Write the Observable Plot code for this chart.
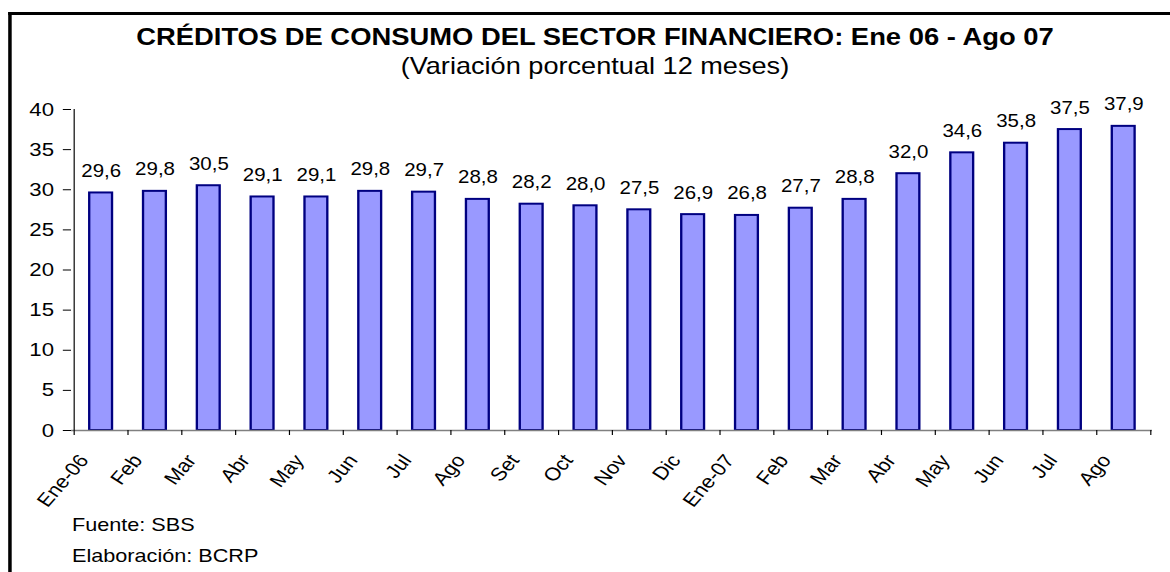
<!DOCTYPE html>
<html>
<head>
<meta charset="utf-8">
<script src="https://cdn.jsdelivr.net/npm/d3@7"></script>
<script src="https://cdn.jsdelivr.net/npm/@observablehq/plot@0.6"></script>
<style>
html, body { margin: 0; padding: 0; background: #fff; width: 1170px; height: 572px; overflow: hidden; }
#stage { position: absolute; left: 0; top: 0; width: 1000px; height: 572px; transform: scaleX(1.17); transform-origin: 0 0; font-family: Arial, "Liberation Sans", sans-serif; color: #000; }
#frame { position: absolute; left: 6.5px; top: 12px; width: 2000px; height: 2000px; border-left: 3px solid #000; border-top: 3px solid #000; box-sizing: border-box; }
.t { position: absolute; left: 0; width: 1017px; text-align: center; line-height: 1; white-space: nowrap; }
#title { top: 26px; font-size: 23.4px; font-weight: bold; }
#subtitle { top: 55px; font-size: 23.2px; }
#chart { position: absolute; left: 0; top: 90px; }
.note { position: absolute; left: 61.5px; font-size: 18.5px; line-height: 1; white-space: nowrap; }
#src { top: 516px; }
#elab { top: 547px; }
</style>
</head>
<body>
<div id="stage">
  <div id="frame"></div>
  <div class="t" id="title">CRÉDITOS DE CONSUMO DEL SECTOR FINANCIERO: Ene 06 - Ago 07</div>
  <div class="t" id="subtitle">(Variación porcentual 12 meses)</div>
  <div id="chart"></div>
  <div class="note" id="src">Fuente: SBS</div>
  <div class="note" id="elab">Elaboración: BCRP</div>
</div>
<script>
const periods = ["2006-01","2006-02","2006-03","2006-04","2006-05","2006-06","2006-07","2006-08","2006-09","2006-10","2006-11","2006-12","2007-01","2007-02","2007-03","2007-04","2007-05","2007-06","2007-07","2007-08"];
const tickLabels = ["Ene-06","Feb","Mar","Abr","May","Jun","Jul","Ago","Set","Oct","Nov","Dic","Ene-07","Feb","Mar","Abr","May","Jun","Jul","Ago"];
const values = [29.6,29.8,30.5,29.1,29.1,29.8,29.7,28.8,28.2,28.0,27.5,26.9,26.8,27.7,28.8,32.0,34.6,35.8,37.5,37.9];
const yTicks = [0,5,10,15,20,25,30,35,40];

const data = periods.map((p, i) => ({period: p, label: tickLabels[i], value: values[i]}));

const W = 1000, H = 425, mL = 60.7, mR = 15.4, mT = 19, mB = 85;
const bw = (W - mL - mR) / periods.length;
const barInset = (bw - 19.7) / 2;
const fmt = v => v.toFixed(1).replace(".", ",");

const chart = Plot.plot({
  width: W,
  height: H,
  marginLeft: mL,
  marginRight: mR,
  marginTop: mT,
  marginBottom: mB,
  style: {fontFamily: 'Arial, "Liberation Sans", sans-serif', background: "transparent", color: "#000", overflow: "visible"},
  x: {domain: periods, padding: 0, axis: null},
  y: {domain: [0, 40], axis: null},
  marks: [
    Plot.barY(data, {x: "period", y: "value", fill: "#9999FF", stroke: "#000080", strokeWidth: 2, insetLeft: barInset, insetRight: barInset}),
    Plot.ruleY([0], {stroke: "#808080", strokeWidth: 1.5}),
    Plot.axisX({ticks: periods, tickSize: 5, tickFormat: () => "", dx: -bw / 2, stroke: "#000", label: null}),
    Plot.axisX({ticks: [periods[periods.length - 1]], tickSize: 5, tickFormat: () => "", dx: bw / 2, stroke: "#000", label: null}),
    Plot.ruleX([periods[0]], {y1: 0, y2: 40, dx: -bw / 2, stroke: "#000", strokeWidth: 1}),
    Plot.axisY({ticks: yTicks, tickSize: 7, tickPadding: 8, fontSize: 19, stroke: "#000", fill: "#000", label: null}),
    Plot.text(data, {x: "period", y: "value", text: d => fmt(d.value), lineAnchor: "bottom", dy: -16, fontSize: 17.5, fill: "#000"}),
    Plot.text(data, {x: "period", text: "label", frameAnchor: "bottom", rotate: -53, textAnchor: "end", lineAnchor: "bottom", dx: -10, dy: 30, fontSize: 18.5, fill: "#000"})
  ]
});
document.getElementById("chart").appendChild(chart);
</script>
</body>
</html>
